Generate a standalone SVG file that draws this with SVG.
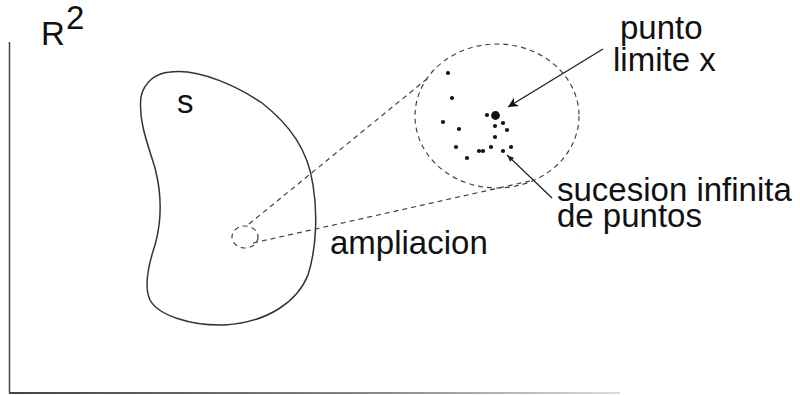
<svg xmlns="http://www.w3.org/2000/svg" width="800" height="395" viewBox="0 0 800 395">
<style>
text{font-family:"Liberation Sans",Arial,sans-serif;fill:#111;font-size:33px}
.solid{fill:none;stroke:#333;stroke-width:1.5}
.dash{fill:none;stroke:#444;stroke-width:1.2;stroke-dasharray:5 4}
.dot{fill:#111}
.arr{stroke:#222;stroke-width:1.3;fill:none}
</style>
<defs>
<linearGradient id="fade" gradientUnits="userSpaceOnUse" x1="9" y1="0" x2="620" y2="0">
<stop offset="0" stop-color="#444"/>
<stop offset="0.6" stop-color="#888"/>
<stop offset="1" stop-color="#ddd"/>
</linearGradient>
<marker id="ah" viewBox="0 0 10 10" refX="10" refY="5" markerWidth="14" markerHeight="10" markerUnits="userSpaceOnUse" orient="auto">
<path d="M0,0 L10,5 L0,10 L3,5 z" fill="#111"/>
</marker>
<marker id="ah2" viewBox="0 0 10 10" refX="10" refY="5" markerWidth="10" markerHeight="7" markerUnits="userSpaceOnUse" orient="auto">
<path d="M0,1 L10,5 L0,9 z" fill="#222"/>
</marker>
</defs>
<g id="axes">
<line x1="9.5" y1="42" x2="9.5" y2="393" stroke="#444" stroke-width="1.5"/>
<line x1="9" y1="393" x2="620" y2="393" stroke="url(#fade)" stroke-width="2"/>
<text x="41" y="45" font-size="32">R</text>
<text x="66" y="29" font-size="18">2</text>
</g>
<g id="setS">
<path class="solid" d="M170,72 C200,68 240,88 262,103 C290,125 308,150 313,185 C318,215 316,250 308,275 C298,300 270,322 225,325 C190,326 158,315 150,300 C143,285 150,260 155,245 C162,220 162,195 155,168 C148,145 138,120 141,97 C144,82 156,73 170,72 Z"/>
<text x="177" y="113">s</text>
</g>
<g id="zoomSmall">
<ellipse class="dash" cx="245" cy="237" rx="13" ry="11"/>
</g>
<g id="zoomBig">
<ellipse class="dash" cx="497" cy="116" rx="82" ry="72"/>
<circle class="dot" cx="495.5" cy="115.5" r="4.4"/>
<circle class="dot" cx="487" cy="115" r="2.1"/>
<circle class="dot" cx="448" cy="73" r="2.1"/>
<circle class="dot" cx="452" cy="98" r="2.1"/>
<circle class="dot" cx="443" cy="122" r="2.1"/>
<circle class="dot" cx="459" cy="129" r="2.1"/>
<circle class="dot" cx="495" cy="126" r="2.1"/>
<circle class="dot" cx="503" cy="123" r="2.1"/>
<circle class="dot" cx="507" cy="130" r="2.1"/>
<circle class="dot" cx="495" cy="137" r="2.1"/>
<circle class="dot" cx="456" cy="147" r="2.1"/>
<circle class="dot" cx="479" cy="151" r="2.1"/>
<circle class="dot" cx="483" cy="151" r="2.1"/>
<circle class="dot" cx="491" cy="147" r="2.1"/>
<circle class="dot" cx="503" cy="151" r="2.1"/>
<circle class="dot" cx="511" cy="147" r="2.1"/>
<circle class="dot" cx="467" cy="158" r="2.1"/>
</g>
<g id="connectors">
<line class="dash" x1="249" y1="224" x2="428" y2="78"/>
<line class="dash" x1="253" y1="243" x2="530" y2="181"/>
<line class="arr" x1="603" y1="49" x2="508" y2="107" marker-end="url(#ah)"/>
<line class="arr" x1="552" y1="198" x2="507" y2="155" marker-end="url(#ah2)"/>
</g>
<g id="labels">
<text x="620" y="39">punto</text>
<text x="613" y="71">limite x</text>
<text x="557" y="201">sucesion infinita</text>
<text x="557" y="227">de puntos</text>
<text x="330" y="254">ampliacion</text>
</g>
</svg>
